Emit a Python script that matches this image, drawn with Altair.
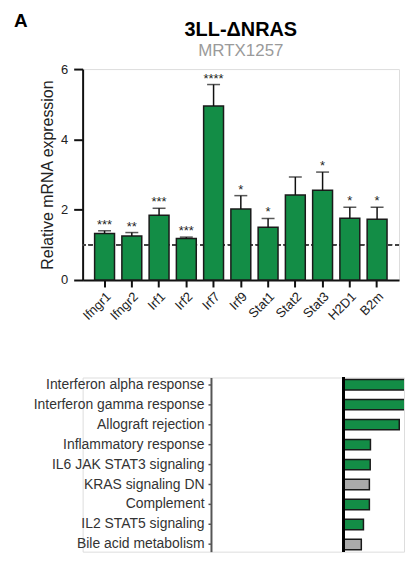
import altair as alt
import pandas as pd

# ---- data: qPCR panel ----
genes = ["Ifngr1", "Ifngr2", "Irf1", "Irf2", "Irf7", "Irf9", "Stat1", "Stat2", "Stat3", "H2D1", "B2m"]
means = [1.32, 1.25, 1.84, 1.18, 4.95, 2.02, 1.50, 2.42, 2.55, 1.76, 1.73]
upper = [1.40, 1.35, 2.04, 1.22, 5.56, 2.40, 1.75, 2.93, 3.07, 2.07, 2.07]
stars = ["***", "**", "***", "***", "****", "*", "*", "", "*", "*", "*"]

# ---- data: pathway panel ----
pathways = ["Interferon alpha response", "Interferon gamma response", "Allograft rejection",
            "Inflammatory response", "IL6 JAK STAT3 signaling", "KRAS signaling DN",
            "Complement", "IL2 STAT5 signaling", "Bile acid metabolism"]
scores = [9.0, 8.5, 4.7, 2.27, 2.25, 2.18, 2.18, 1.68, 1.5]
groups = ["sig", "sig", "sig", "sig", "sig", "ns", "sig", "sig", "ns"]

GREEN = "#138d46"
GREY = "#aaaaaa"
FONT = "Liberation Sans"

df = pd.DataFrame({"gene": genes, "mean": means, "upper": upper, "stars": stars})
dfp = pd.DataFrame({"pathway": pathways, "score": scores, "group": groups})

xenc = alt.X("gene:N", sort=genes,
             scale=alt.Scale(paddingInner=0.27, paddingOuter=0.44),
             axis=alt.Axis(title=None, labelAngle=-45, labelFontSize=13, labelColor="#222",
                           tickSize=7, tickWidth=2, tickColor="#111", domainColor="#111",
                           domainWidth=2, labelPadding=3))
yscale = alt.Scale(domain=[0, 6], nice=False)

base = alt.Chart(df)

ref = base.mark_rule(color="#444", strokeWidth=1, strokeDash=[4, 3]).encode(
    y=alt.datum(1, scale=yscale)
)
bars = base.mark_bar(color=GREEN, stroke="#1a1a1a", strokeWidth=1.5).encode(
    x=xenc,
    y=alt.Y("mean:Q", scale=yscale,
            axis=alt.Axis(values=[0, 2, 4, 6], title="Relative mRNA expression",
                          titleFontSize=16, titleFontWeight="normal", titleColor="#222",
                          labelFontSize=13, labelColor="#222", tickSize=9, tickWidth=2,
                          tickColor="#111", domainColor="#111", domainWidth=2,
                          labelPadding=6, titlePadding=5, grid=False)),
)
err = base.mark_rule(color="#111", strokeWidth=1.5).encode(
    x=alt.X("gene:N", sort=genes), y=alt.Y("mean:Q"), y2="upper:Q"
)
cap = base.mark_tick(color="#111", thickness=1.5, size=13, orient="horizontal").encode(
    x=alt.X("gene:N", sort=genes), y=alt.Y("upper:Q")
)
txt = base.mark_text(baseline="bottom", dy=1, fontSize=13, font=FONT, color="#222").encode(
    x=alt.X("gene:N", sort=genes), y=alt.Y("upper:Q"), text="stars:N"
)
panel = alt.Chart(pd.DataFrame({"t": ["A"]})).mark_text(
    align="left", baseline="alphabetic", fontSize=19, fontWeight="bold", font=FONT, color="#000"
).encode(x=alt.value(-69), y=alt.value(-42), text="t:N")

top = alt.layer(ref, bars, err, cap, txt, panel).properties(
    width=318, height=212,
    title=alt.TitleParams(text="3LL-\u0394NRAS", subtitle="MRTX1257", fontSize=20,
                          fontWeight="bold", subtitleFontSize=17, subtitleColor="#9a9a9a",
                          subtitleFont=FONT, font=FONT, anchor="middle", frame="group",
                          offset=-47, subtitlePadding=3, color="#000"),
)

# ---- bottom panel ----
pbase = alt.Chart(dfp)
pbars = pbase.mark_bar(stroke="#1a1a1a", strokeWidth=1.5, clip=True).encode(
    x=alt.X("score:Q", scale=alt.Scale(domain=[-22, 5.1], nice=False, zero=False), axis=None),
    y=alt.Y("pathway:N", sort=pathways,
            scale=alt.Scale(paddingInner=0.48, paddingOuter=0.1),
            axis=alt.Axis(title=None, offset=-129, labelFontSize=14, labelColor="#333",
                          tickSize=3, tickWidth=1.5, tickColor="#555", domainColor="#555",
                          domainWidth=2, labelPadding=4, grid=False)),
    color=alt.Color("group:N", scale=alt.Scale(domain=["sig", "ns"], range=[GREEN, GREY]),
                    legend=None),
)
zero = pbase.mark_rule(color="#000", strokeWidth=2.5).encode(
    x=alt.datum(0)
)
bottom = alt.layer(pbars, zero).properties(width=323, height=175)

chart = alt.vconcat(top, bottom, spacing=52).properties(
    padding={"left": 5, "top": 2, "right": 0, "bottom": 0}
).configure_view(stroke=None).configure(font=FONT)

chart.save("out.html", embed_options={"renderer": "svg", "actions": False})
